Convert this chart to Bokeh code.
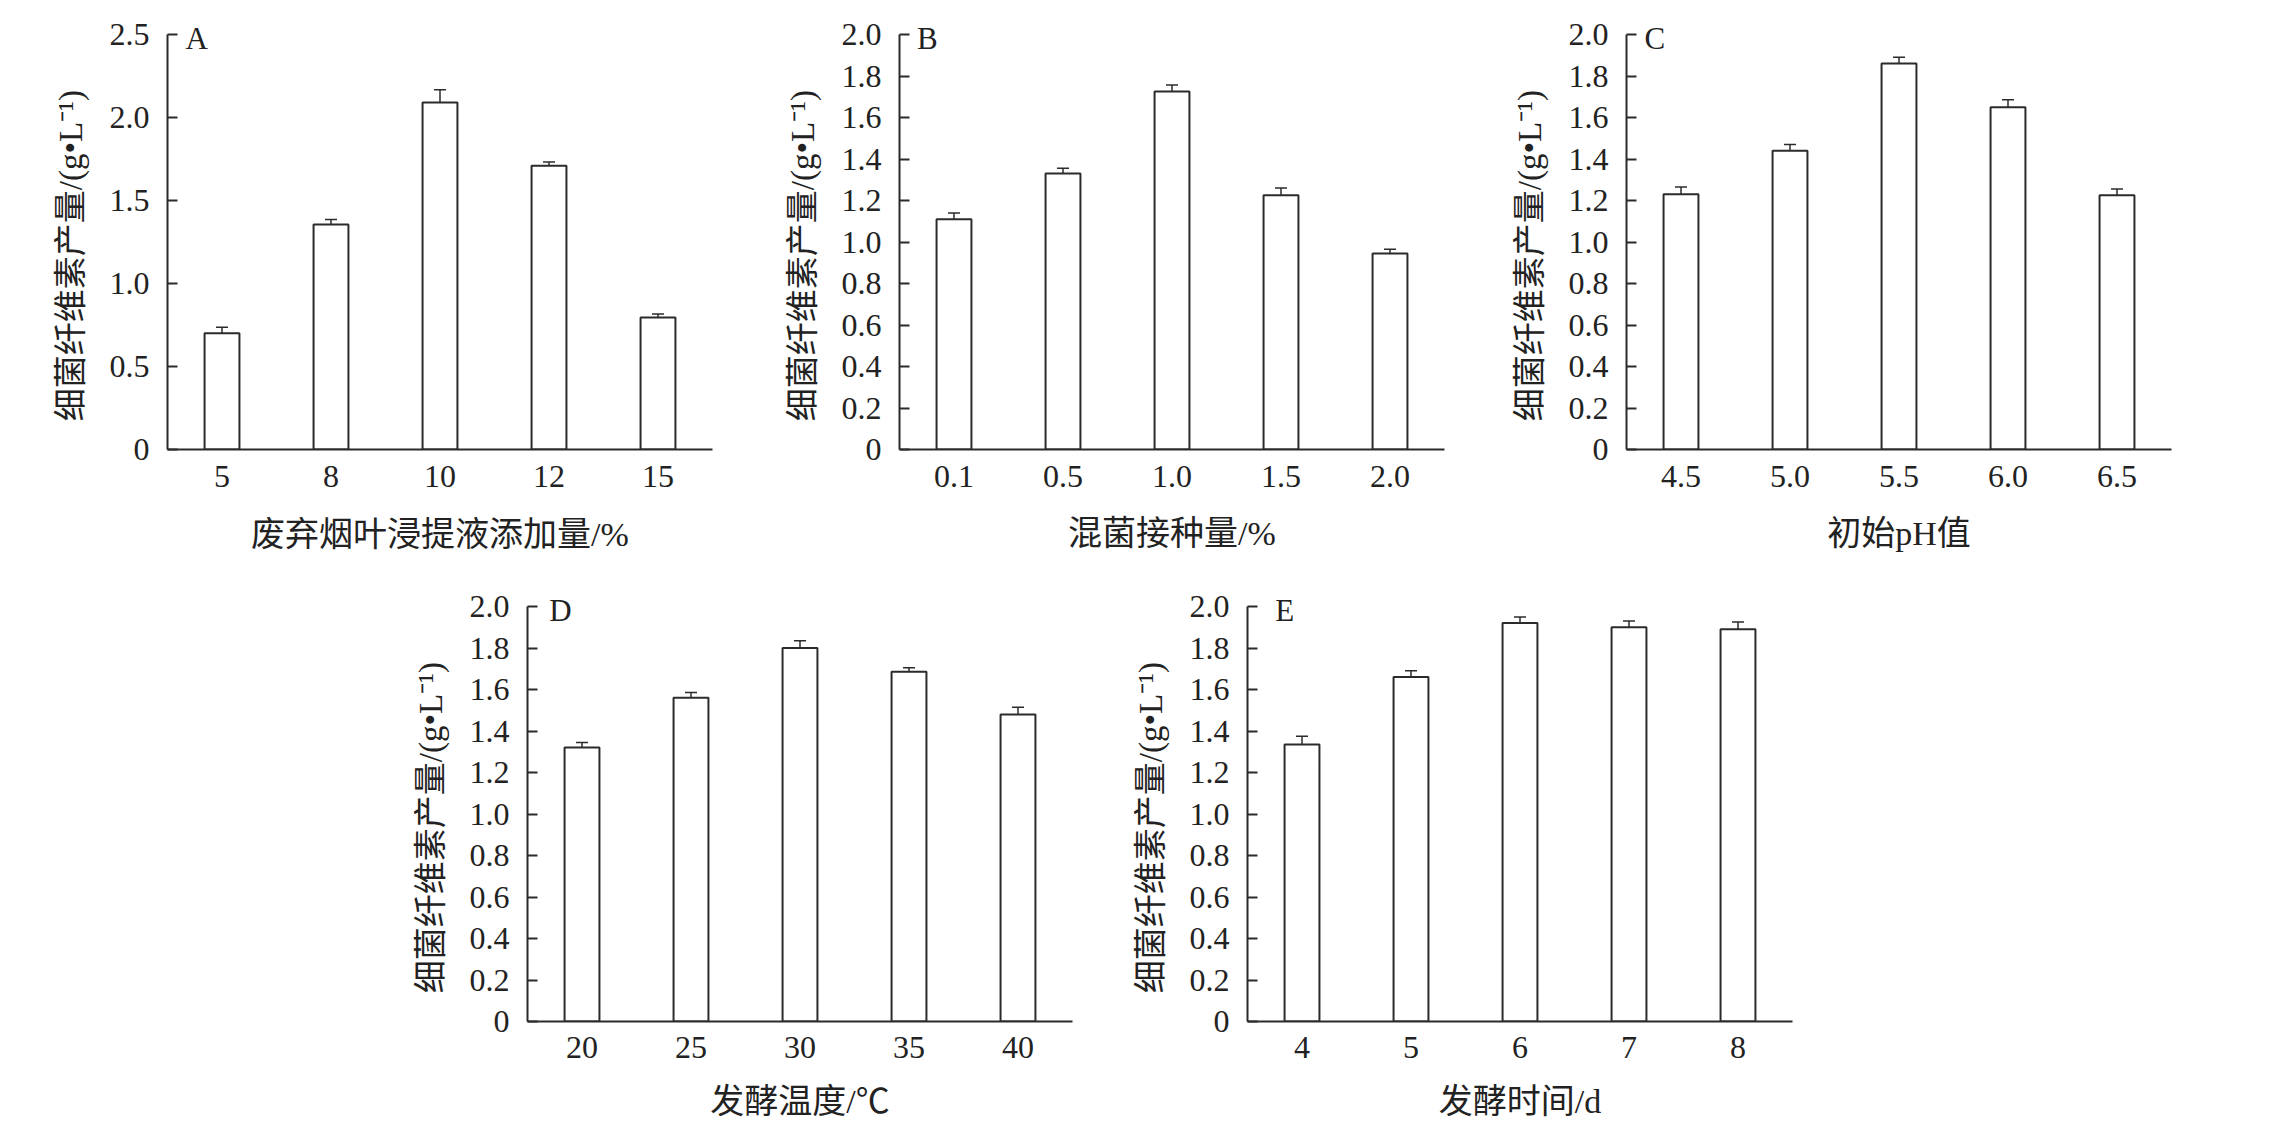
from bokeh.plotting import figure
from bokeh.models import (FactorRange, Range1d, FixedTicker, PrintfTickFormatter,
                          ColumnDataSource, Whisker, TeeHead, Label, Spacer)
from bokeh.layouts import row, column
from bokeh.embed import file_html
from bokeh.resources import INLINE

# ---------------- data ----------------
cats_A = ["5", "8", "10", "12", "15"]
vals_A = [0.70, 1.355, 2.09, 1.71, 0.795]
err_A = [0.037, 0.03, 0.077, 0.022, 0.022]

cats_B = ["0.1", "0.5", "1.0", "1.5", "2.0"]
vals_B = [1.11, 1.33, 1.725, 1.225, 0.945]
err_B = [0.03, 0.025, 0.032, 0.035, 0.02]

cats_C = ["4.5", "5.0", "5.5", "6.0", "6.5"]
vals_C = [1.23, 1.44, 1.86, 1.65, 1.225]
err_C = [0.035, 0.03, 0.03, 0.035, 0.03]

cats_D = ["20", "25", "30", "35", "40"]
vals_D = [1.32, 1.56, 1.80, 1.685, 1.48]
err_D = [0.025, 0.025, 0.035, 0.02, 0.035]

cats_E = ["4", "5", "6", "7", "8"]
vals_E = [1.335, 1.66, 1.92, 1.90, 1.89]
err_E = [0.04, 0.03, 0.03, 0.03, 0.035]

ticks_A = [0, 0.5, 1.0, 1.5, 2.0, 2.5]
ticks_other = [0, 0.2, 0.4, 0.6, 0.8, 1.0, 1.2, 1.4, 1.6, 1.8, 2.0]

xlabel_A = "废弃烟叶浸提液添加量/%"
xlabel_B = "混菌接种量/%"
xlabel_C = "初始pH值"
xlabel_D = "发酵温度/℃"
xlabel_E = "发酵时间/d"
ylabel = "细菌纤维素产量/(g•L⁻¹)"

# ---------------- styling ----------------
INK = "#2b2b2b"
TXT = "#222222"
SERIF = "Liberation Serif"
MIXED = "'Liberation Serif', 'Noto Sans CJK SC'"
FW, FH = 545, 415      # axis extents in px
PAD = 14               # room above the top tick for the panel letter
YLAB_SHIFT = "\u00a0" * 5   # non-breaking spaces: move the centred y title down a little


def panel(cats, vals, errs, ticks, ymax, xlabel, letter, letter_x,
          left, right, top, bottom, tick_so, label_so, fmt="%.1f"):
    p = figure(x_range=FactorRange(*cats, range_padding=0),
               y_range=Range1d(0, ymax * (FH + PAD) / FH),
               frame_width=FW, frame_height=FH + PAD,
               min_border_left=left, min_border_right=right,
               min_border_top=top - PAD, min_border_bottom=bottom,
               output_backend="svg", toolbar_location=None)
    p.outline_line_color = None
    p.xgrid.visible = False
    p.ygrid.visible = False
    p.background_fill_color = "white"
    p.border_fill_color = "white"

    src = ColumnDataSource(dict(x=cats, top=vals,
                                upper=[v + e for v, e in zip(vals, errs)],
                                lower=[v - e for v, e in zip(vals, errs)]))
    p.vbar(x="x", top="top", width=0.32, bottom=0, source=src,
           fill_color="white", line_color=INK, line_width=2)
    p.add_layout(Whisker(source=src, base="x", upper="upper", lower="lower",
                         line_color=INK, line_width=1.5,
                         upper_head=TeeHead(size=12, line_color=INK, line_width=1.5),
                         lower_head=TeeHead(size=12, line_color=INK, line_width=1.5)))

    # y axis
    ya = p.yaxis[0]
    ya.bounds = (0, ymax)
    ya.ticker = FixedTicker(ticks=ticks)
    ya.formatter = PrintfTickFormatter(format=fmt)
    ya.major_label_overrides = {0: "0"}
    ya.major_tick_in = 10
    ya.major_tick_out = 0
    ya.minor_tick_line_color = None
    ya.axis_line_width = 2
    ya.axis_line_color = INK
    ya.major_tick_line_width = 2
    ya.major_tick_line_color = INK
    ya.major_label_text_font = SERIF
    ya.major_label_text_font_size = "32px"
    ya.major_label_text_color = TXT
    ya.major_label_standoff = 18
    ya.axis_label = ylabel + YLAB_SHIFT
    ya.axis_label_text_font = MIXED
    ya.axis_label_text_font_size = "33px"
    ya.axis_label_text_font_style = "normal"
    ya.axis_label_text_color = TXT
    ya.axis_label_standoff = 18

    # x axis
    xa = p.xaxis[0]
    xa.major_tick_in = 0
    xa.major_tick_out = 0
    xa.minor_tick_line_color = None
    xa.axis_line_width = 2
    xa.axis_line_color = INK
    xa.major_label_text_font = SERIF
    xa.major_label_text_font_size = "32px"
    xa.major_label_text_color = TXT
    xa.major_label_standoff = tick_so
    xa.axis_label = xlabel
    xa.axis_label_text_font = MIXED
    xa.axis_label_text_font_size = "34px"
    xa.axis_label_text_font_style = "normal"
    xa.axis_label_text_color = TXT
    xa.axis_label_standoff = label_so

    # panel letter
    p.add_layout(Label(x=letter_x, y=ymax - 4.0 * ymax / FH, text=letter,
                       text_baseline="middle", text_align="left",
                       text_font=SERIF, text_font_size="31px", text_color=TXT))
    return p


pA = panel(cats_A, vals_A, errs=err_A, ticks=ticks_A, ymax=2.5, xlabel=xlabel_A,
           letter="A", letter_x=0.165, left=167, right=27, top=29, bottom=120,
           tick_so=16, label_so=26)
pB = panel(cats_B, vals_B, errs=err_B, ticks=ticks_other, ymax=2.0, xlabel=xlabel_B,
           letter="B", letter_x=0.16, left=160, right=22, top=34, bottom=115,
           tick_so=16, label_so=25)
pC = panel(cats_C, vals_C, errs=err_C, ticks=ticks_other, ymax=2.0, xlabel=xlabel_C,
           letter="C", letter_x=0.165, left=160, right=40, top=34, bottom=115,
           tick_so=16, label_so=25)
pD = panel(cats_D, vals_D, errs=err_D, ticks=ticks_other, ymax=2.0, xlabel=xlabel_D,
           letter="D", letter_x=0.2, left=160, right=20, top=42, bottom=110,
           tick_so=15, label_so=22)
pE = panel(cats_E, vals_E, errs=err_E, ticks=ticks_other, ymax=2.0, xlabel=xlabel_E,
           letter="E", letter_x=0.255, left=155, right=30, top=42, bottom=110,
           tick_so=15, label_so=22)

layout = column(row(pA, pB, pC),
                row(Spacer(width=367, height=10), pD, pE))

open("out.html", "w").write(file_html(layout, INLINE))
